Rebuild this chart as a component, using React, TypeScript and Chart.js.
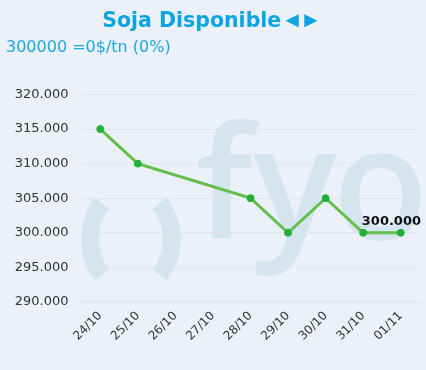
import React, { useEffect, useRef } from 'react';
import { Chart, registerables } from 'chart.js';

Chart.register(...registerables);

const titleWords = 'Soja Disponible';
const titleArrows = '◄►';
const subtitleText = '300000 =0$/tn (0%)';
const dateLabels = ['24/10', '25/10', '26/10', '27/10', '28/10', '29/10', '30/10', '31/10', '01/11'];
const priceValues: (number | null)[] = [315000, 310000, null, null, 305000, 300000, 305000, 300000, 300000];
const yMin = 290000;
const yMax = 320000;
const yStep = 5000;
const lastValueLabel = '300.000';
const watermarkLetters = ['f', 'y', 'o'];

const BG = '#ECF0F9';
const WM = '#D5E5F0';
const GRID = '#E2E3E6';

const fmt = (v: number) => {
  const s = String(Math.round(v));
  return s.length > 3 ? s.slice(0, -3) + '.' + s.slice(-3) : s;
};

const watermarkPlugin = {
  id: 'watermark',
  beforeDraw(chart: any) {
    const ctx = chart.ctx;
    ctx.save();
    ctx.strokeStyle = WM;
    ctx.lineWidth = 18;
    ctx.lineCap = 'butt';
    const r = 60.6;
    const a = (36.7 * Math.PI) / 180;
    ctx.beginPath();
    ctx.arc(90 + r, 239, r, Math.PI - a, Math.PI + a);
    ctx.stroke();
    ctx.beginPath();
    ctx.arc(171.7 - r, 239, r, -a, a);
    ctx.stroke();

    ctx.fillStyle = WM;
    ctx.textAlign = 'left';
    ctx.textBaseline = 'alphabetic';
    ctx.font = '600 100px "Open Sans"';
    const om = ctx.measureText('o');
    const size = (100 * 86) / Math.max(1, om.actualBoundingBoxAscent);
    ctx.font = `600 ${size}px "Open Sans"`;
    const base = 239;
    const [lf, ly, lo] = watermarkLetters;
    const mf = ctx.measureText(lf);
    ctx.fillText(lf, 198 + mf.actualBoundingBoxLeft, base);
    const my = ctx.measureText(ly);
    ctx.fillText(ly, 337 - my.actualBoundingBoxRight, base);
    const mo = ctx.measureText(lo);
    ctx.fillText(lo, 340 + mo.actualBoundingBoxLeft, base);
    ctx.restore();
  },
};

const lastLabelPlugin = {
  id: 'lastLabel',
  afterDatasetsDraw(chart: any) {
    const meta = chart.getDatasetMeta(0);
    const pts = meta.data;
    const p = pts[pts.length - 1];
    if (!p) return;
    const ctx = chart.ctx;
    ctx.save();
    ctx.font = 'bold 13px "DejaVu Sans"';
    ctx.fillStyle = '#111';
    ctx.textBaseline = 'alphabetic';
    const w = ctx.measureText(lastValueLabel).width;
    let x = p.x - w / 2;
    if (x + w > chart.width - 5) x = chart.width - 5 - w;
    ctx.textAlign = 'left';
    ctx.fillText(lastValueLabel, x, p.y - 8);
    ctx.restore();
  },
};

export default function App() {
  const ref = useRef<HTMLCanvasElement>(null);
  useEffect(() => {
    document.body.style.margin = '0';
    document.body.style.background = BG;
    const chart = new Chart(ref.current!, {
      type: 'line',
      data: {
        labels: dateLabels,
        datasets: [
          {
            data: priceValues,
            borderColor: '#63BE4C',
            borderWidth: 3,
            pointBackgroundColor: '#22B03B',
            pointBorderColor: '#22B03B',
            pointBorderWidth: 1,
            pointRadius: 3.5,
            spanGaps: true,
            tension: 0,
          },
        ],
      },
      options: {
        animation: false,
        responsive: false,
        devicePixelRatio: 1,
        layout: { padding: { left: 14.5, right: 6.5, top: 94.5, bottom: 24.5 } },
        plugins: {
          legend: { display: false },
          tooltip: { enabled: false },
        },
        scales: {
          x: {
            offset: true,
            afterFit(scale: any) {
              scale.paddingLeft = 0;
              scale.paddingRight = 0;
              scale.getPadding = () => ({ left: 0, right: 0, top: 0, bottom: 0 });
            },
            grid: {
              offset: true,
              drawOnChartArea: false,
              drawTicks: true,
              tickLength: 5,
              color: GRID,
            },
            border: { display: true, color: GRID },
            ticks: {
              minRotation: 45,
              maxRotation: 45,
              autoSkip: false,
              color: '#333',
              font: { family: '"DejaVu Sans"', size: 12 },
              padding: 2,
            },
          },
          y: {
            min: yMin,
            max: yMax,
            afterFit(scale: any) {
              scale.width = 67;
            },
            grid: { color: GRID, drawTicks: false },
            border: { display: false },
            ticks: {
              stepSize: yStep,
              color: '#333',
              padding: 13,
              font: { family: '"DejaVu Sans"', size: 13 },
              callback: (v: any) => fmt(Number(v)),
            },
          },
        },
      },
      plugins: [watermarkPlugin, lastLabelPlugin],
    });
    return () => chart.destroy();
  }, []);

  return (
    <div style={{ position: 'relative', width: 426, height: 370, background: BG, overflow: 'hidden' }}>
      <canvas ref={ref} width={426} height={370} style={{ position: 'absolute', left: 0, top: 0 }} />
      <div
        style={{
          position: 'absolute',
          left: 0,
          top: 7,
          width: 421,
          textAlign: 'center',
          fontFamily: '"DejaVu Sans", Verdana, sans-serif',
          fontWeight: 'bold',
          fontSize: 20.5,
          lineHeight: '26px',
          color: '#0BA6E1',
          whiteSpace: 'nowrap',
        }}
      >
        {titleWords}
        <span style={{ fontFamily: '"Liberation Sans"', fontSize: 22, fontWeight: 'normal', letterSpacing: -3 }}>
          {titleArrows}
        </span>
      </div>
      <div
        style={{
          position: 'absolute',
          left: 6,
          top: 37,
          fontFamily: '"DejaVu Sans", Verdana, sans-serif',
          fontSize: 16,
          lineHeight: '20px',
          color: '#1AA8E0',
          whiteSpace: 'nowrap',
        }}
      >
        {subtitleText}
      </div>
    </div>
  );
}
